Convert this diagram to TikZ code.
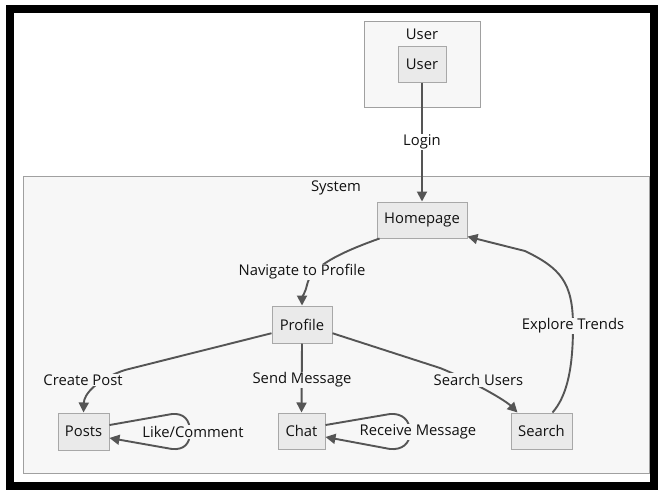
\documentclass[tikz,border=0pt]{standalone}
\usepackage{fontspec}
\setmainfont{Open Sans}
\usetikzlibrary{arrows.meta}
\definecolor{nodefill}{HTML}{EAEAEA}
\definecolor{nodeline}{HTML}{A8A8A8}
\definecolor{clusterfill}{HTML}{F7F7F7}
\definecolor{clusterline}{HTML}{A0A0A0}
\definecolor{edgecol}{HTML}{555555}
\definecolor{textcol}{HTML}{111111}
\begin{document}
\begin{tikzpicture}[x=1pt,y=-1pt,
  font=\fontsize{14.8}{17}\selectfont, text=textcol,
  box/.style={draw=nodeline, fill=nodefill, line width=1pt, inner sep=0pt},
  cluster/.style={draw=clusterline, fill=clusterfill, line width=1pt, inner sep=0pt},
  edge/.style={draw=edgecol, line width=1.9pt, -{Triangle[length=10pt,width=10pt]}},
  elabel/.style={fill=clusterfill, inner sep=1pt},
  title/.style={inner sep=0pt},
]
\useasboundingbox (0,0) rectangle (658,490);
\fill[white] (0,0) rectangle (658,490);
% frame
\draw[black, line width=8pt] (10,9) rectangle (654,486);
% clusters
\node[cluster, minimum width=116, minimum height=86] (userc) at (422,64) {};
\node[title] (usert) at (422,34) {User};
\node[cluster, minimum width=626, minimum height=297] (sysc) at (336,324.5) {};
\node[title] (syst) at (336,188) {System};
% nodes
\node[box, minimum width=48, minimum height=36] (user) at (422,64) {User};
\node[box, minimum width=90, minimum height=36] (home) at (422,220) {Homepage};
\node[box, minimum width=60, minimum height=37] (profile) at (302,324.5) {Profile};
\node[box, minimum width=51, minimum height=37] (posts) at (83.5,431.5) {Posts};
\node[box, minimum width=47, minimum height=36] (chat) at (301.5,431) {Chat};
\node[box, minimum width=61, minimum height=36] (search) at (541.5,431) {Search};
% edges
\draw[edge] (user.south) -- (home.north);
\draw[edge] ([xshift=3pt]home.south west) .. controls (330,256) and (310,270) .. (307,285)
  .. controls (305,293) and (302,298) .. (profile.north);
\draw[edge] (profile.196) -- (125,370) .. controls (95,380) and (84,395) .. (posts.north);
\draw[edge] (profile.south) -- (chat.north);
\draw[edge] (profile.-16) -- (440,368) .. controls (470,380) and (505,400) .. ([xshift=7pt]search.north west);
\draw[edge] ([xshift=11pt]search.north) .. controls (568,395) and (573,365) .. (573,326)
  .. controls (573,282) and (560,268) .. (525,251) -- (home.-20);
\draw[edge] (posts.14) -- (172,414) .. controls (184,413) and (190,420) .. (190,432)
  .. controls (190,444) and (184,450) .. (172,449) -- (posts.-14);
\draw[edge] (chat.14) -- (390,414) .. controls (402,413) and (410,420) .. (410,432)
  .. controls (410,444) and (402,450) .. (390,449) -- (chat.-14);
% edge labels
\node[elabel, fill=white] (llogin) at (422,142) {Login};
\node[elabel] (lnav) at (302,272) {Navigate to Profile};
\node[elabel] (lcreate) at (83,380) {Create Post};
\node[elabel] (lsend) at (302,380) {Send Message};
\node[elabel] (lsearch) at (478.5,380) {Search Users};
\node[elabel] (ltrend) at (573,326) {Explore Trends};
\node[elabel] (llike) at (193,432) {Like/Comment};
\node[elabel] (lrecv) at (418,432) {Receive Message};
\end{tikzpicture}
\end{document}
